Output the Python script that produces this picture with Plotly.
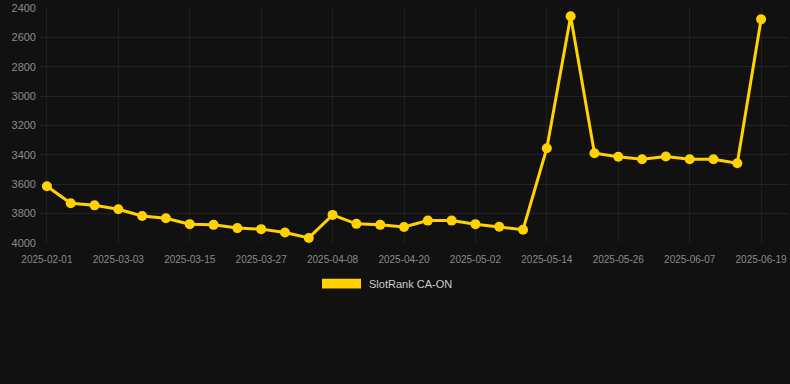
import plotly.graph_objects as go

dates = ["2025-02-01", "2025-02-23", "2025-02-27", "2025-03-03", "2025-03-07", "2025-03-11",
         "2025-03-15", "2025-03-19", "2025-03-23", "2025-03-27", "2025-03-31", "2025-04-04",
         "2025-04-08", "2025-04-12", "2025-04-16", "2025-04-20", "2025-04-24", "2025-04-28",
         "2025-05-02", "2025-05-06", "2025-05-10", "2025-05-14", "2025-05-18", "2025-05-22",
         "2025-05-26", "2025-05-30", "2025-06-03", "2025-06-07", "2025-06-11", "2025-06-15",
         "2025-06-19"]
ranks = [3614, 3730, 3744, 3771, 3816, 3832, 3872, 3877, 3899, 3906, 3929, 3966,
         3809, 3870, 3877, 3892, 3848, 3848, 3872, 3890, 3910, 3355, 2456, 3389,
         3413, 3430, 3411, 3430, 3430, 3457, 2476]
series_name = "SlotRank CA-ON"
y_ticks = [2400, 2600, 2800, 3000, 3200, 3400, 3600, 3800, 4000]
x_tick_labels = dates[::3]

W, H = 790, 384
ml, mr, mt, mb = 40, 2, 6, 141
gold = "#FFD200"

fig = go.Figure()
fig.add_trace(go.Scatter(
    x=dates, y=ranks, mode="lines+markers", name=series_name,
    line=dict(color=gold, width=3),
    marker=dict(color=gold, size=10),
    showlegend=False,
))

fig.update_layout(
    width=W, height=H,
    margin=dict(l=ml, r=mr, t=mt, b=mb),
    paper_bgcolor="#111111", plot_bgcolor="#111111",
    font=dict(family="Liberation Sans, Arial, sans-serif", color="#8a8a8a"),
    xaxis=dict(
        type="category", categoryorder="array", categoryarray=dates,
        range=[-0.29, 31.13],
        tickvals=x_tick_labels, ticktext=x_tick_labels,
        tickfont=dict(size=10, color="#8a8a8a"),
        showgrid=True, gridcolor="#1f1f1f", gridwidth=1,
        zeroline=False, showline=False, ticks="", ticklabelstandoff=9,
    ),
    yaxis=dict(
        range=[4000.5, 2399.5], tickvals=y_ticks,
        tickfont=dict(size=11, color="#8a8a8a"),
        showgrid=True, gridcolor="#222222", gridwidth=1,
        zeroline=False, showline=False, ticks="", ticklabelstandoff=3,
        ticklabeloverflow="allow",
    ),
    shapes=[dict(
        type="rect", xref="paper", yref="paper",
        x0=(322 - ml) / (W - ml - mr), x1=(361 - ml) / (W - ml - mr),
        y0=1 - (289 - mt) / (H - mt - mb), y1=1 - (279 - mt) / (H - mt - mb),
        fillcolor=gold, line=dict(width=0),
    )],
    annotations=[dict(
        text=series_name, xref="paper", yref="paper",
        x=(367 - ml) / (W - ml - mr), y=1 - (284.5 - mt) / (H - mt - mb),
        xanchor="left", yanchor="middle", showarrow=False,
        font=dict(size=11, color="#cccccc"),
    )],
)

fig.write_html("out.html", config={"displayModeBar": False},
               post_script="document.body.style.margin='0px';document.body.style.background='#111111';")
